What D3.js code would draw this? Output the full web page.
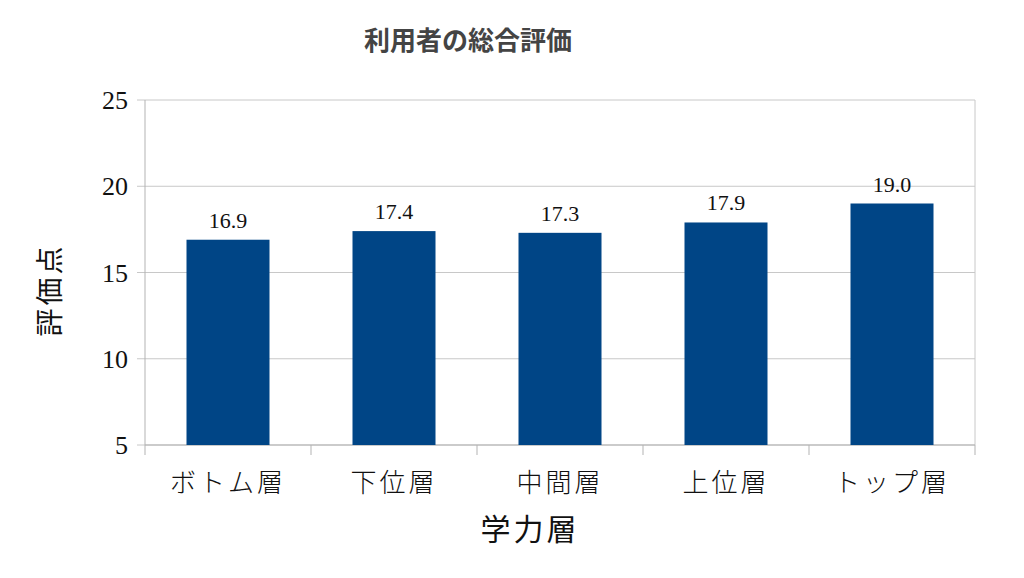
<!DOCTYPE html><html><head><meta charset="utf-8">
<script src="https://cdn.jsdelivr.net/npm/d3@7"></script>
<style>body{margin:0;background:#fff}</style></head><body>
<svg id="c" width="1024" height="578"></svg>
<script>
const categories=["ボトム層","下位層","中間層","上位層","トップ層"];
const values=[16.9,17.4,17.3,17.9,19.0];
const yTicks=[5,10,15,20,25];
const svg=d3.select("#c");
const L=145,R=975,T=100,B=445;
const x=d3.scaleBand().domain(categories).range([L,R]).paddingInner(0.5).paddingOuter(0.25);
const y=d3.scaleLinear().domain([5,25]).range([B,T]);
const serif="'Liberation Serif','Noto Sans CJK JP',serif";
svg.selectAll(".g").data(yTicks).enter().append("line").attr("x1",L-8).attr("x2",R).attr("y1",d=>y(d)).attr("y2",d=>y(d)).attr("stroke","#c8c8c8");
svg.append("line").attr("x1",R).attr("x2",R).attr("y1",T).attr("y2",B).attr("stroke","#c8c8c8");
svg.append("line").attr("x1",L).attr("x2",L).attr("y1",T).attr("y2",B).attr("stroke","#b3b3b3");
svg.append("line").attr("x1",L).attr("x2",R).attr("y1",B).attr("y2",B).attr("stroke","#b3b3b3");
const step=(R-L)/categories.length;
d3.range(categories.length+1).forEach(i=>svg.append("line").attr("x1",L+i*step).attr("x2",L+i*step).attr("y1",B).attr("y2",B+10).attr("stroke","#b3b3b3"));
svg.selectAll(".yl").data(yTicks).enter().append("text").attr("x",L-17).attr("y",d=>y(d)+9).attr("text-anchor","end").attr("font-family",serif).attr("font-size",26).attr("fill","#111").text(d=>d);
svg.selectAll(".b").data(values).enter().append("rect").attr("x",(d,i)=>x(categories[i])).attr("width",x.bandwidth()).attr("y",d=>y(d)).attr("height",d=>B-y(d)).attr("fill","#004586");
svg.selectAll(".v").data(values).enter().append("text").attr("x",(d,i)=>x(categories[i])+x.bandwidth()/2).attr("y",d=>y(d)-12).attr("text-anchor","middle").attr("font-family",serif).attr("font-size",22).attr("fill","#111").text(d=>d.toFixed(1));
svg.selectAll(".xl").data(categories).enter().append("text").attr("x",d=>x(d)+x.bandwidth()/2).attr("y",492).attr("text-anchor","middle").attr("font-family","'Noto Sans CJK JP'").attr("font-weight",300).attr("font-size",26).attr("letter-spacing",3).attr("fill","#111").text(d=>d);
svg.append("text").attr("x",530).attr("y",540).attr("text-anchor","middle").attr("font-family","'Noto Sans CJK JP'").attr("font-size",30).attr("letter-spacing",3).attr("fill","#111").text("学力層");
svg.append("text").attr("transform","translate(60,290) rotate(-90)").attr("text-anchor","middle").attr("font-family","'Noto Sans CJK JP'").attr("font-size",28).attr("letter-spacing",3).attr("fill","#111").text("評価点");
svg.append("text").attr("x",468).attr("y",50).attr("text-anchor","middle").attr("font-family","'Noto Sans CJK JP'").attr("font-weight","bold").attr("font-size",26).attr("fill","#444").text("利用者の総合評価");
</script></body></html>
